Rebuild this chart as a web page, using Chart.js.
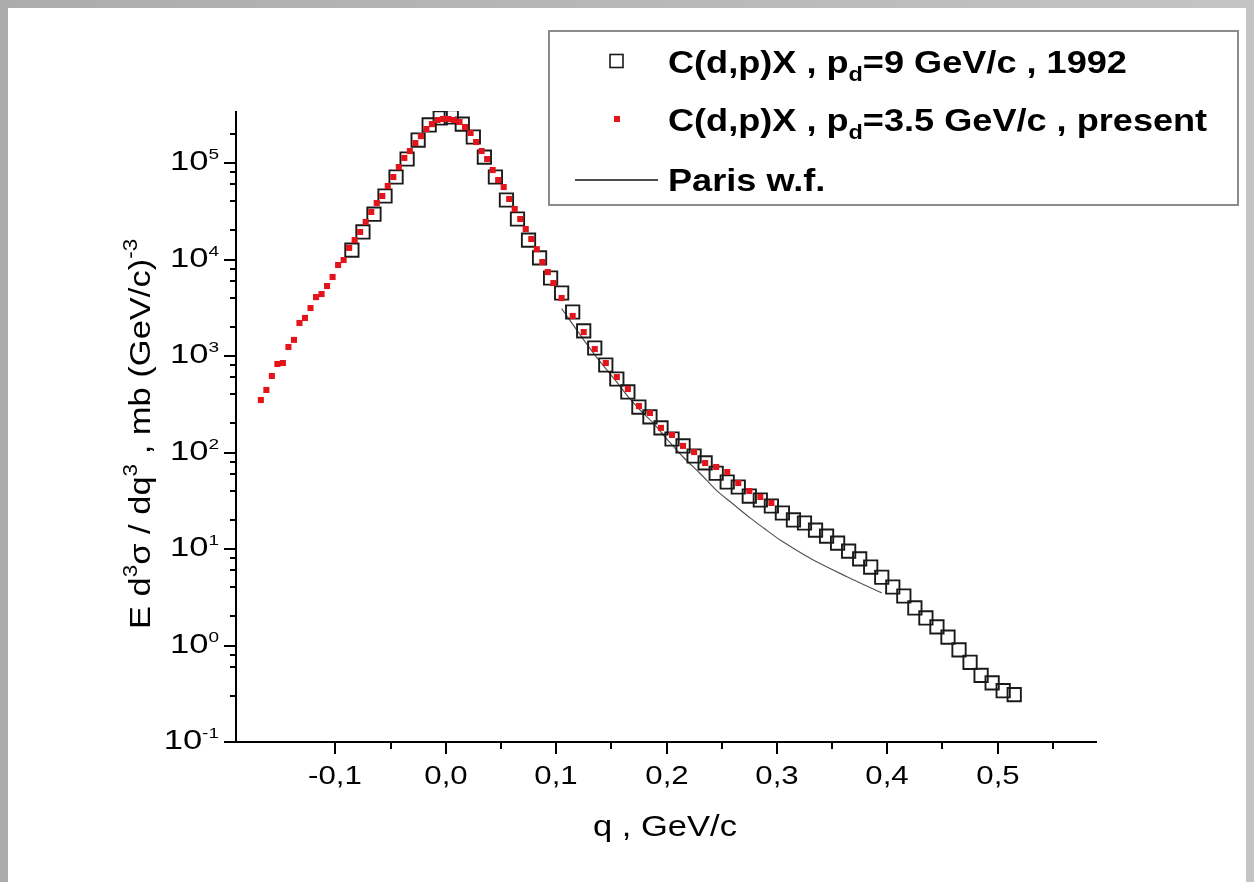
<!DOCTYPE html>
<html>
<head>
<meta charset="utf-8">
<title>C(d,p)X</title>
<script src="https://cdn.jsdelivr.net/npm/chart.js@4.4.1/dist/chart.umd.min.js"></script>
<style>
  html, body { margin: 0; padding: 0; }
  body { width: 1254px; height: 882px; overflow: hidden; position: relative;
         background: linear-gradient(90deg, #acacac 0%, #bababa 60%, #c4c4c4 100%); }
  #page { position: absolute; left: 8px; top: 8px; width: 1238px; height: 874px; background: #fff; }
  #c { position: absolute; left: 0; top: 0; }
</style>
</head>
<body>
<div id="page"></div>
<canvas id="c" width="1254" height="882"></canvas>
<script>
// C(d,p)X , p_d = 9 GeV/c (1992) - open squares
const q1992 = [-0.085, -0.075, -0.065, -0.055, -0.045, -0.035, -0.025, -0.015, -0.005,
  0.005, 0.015, 0.025, 0.035, 0.045, 0.055, 0.065, 0.075, 0.085, 0.095, 0.105,
  0.115, 0.125, 0.135, 0.145, 0.155, 0.165, 0.175, 0.185, 0.195, 0.205,
  0.215, 0.225, 0.235, 0.245, 0.255, 0.265, 0.275, 0.285, 0.295, 0.305,
  0.315, 0.325, 0.335, 0.345, 0.355, 0.365, 0.375, 0.385, 0.395, 0.405,
  0.415, 0.425, 0.435, 0.445, 0.455, 0.465, 0.475, 0.485, 0.495, 0.505, 0.515];
const sigma1992 = [12500, 19300, 29500, 45500, 71600, 110000, 173000, 248000, 293000,
  300000, 253000, 186000, 115000, 71600, 41400, 26300, 15900, 10400, 6430, 4500,
  2860, 1820, 1210, 807, 578, 424, 296, 234, 180, 138,
  117, 92, 78, 61, 49.5, 43.9, 35.4, 32.2, 27.9, 23.6,
  20.0, 18.6, 15.7, 13.6, 11.5, 9.5, 7.9, 6.5, 5.1, 4.04,
  3.26, 2.45, 1.93, 1.56, 1.22, 0.90, 0.67, 0.49, 0.41, 0.34, 0.31];

// C(d,p)X , p_d = 3.5 GeV/c (present) - red points
const qPresent = [-0.1675, -0.1625, -0.1575, -0.1525, -0.1475, -0.1425, -0.1375, -0.1325, -0.1275, -0.1225,
  -0.1175, -0.1125, -0.1075, -0.1025, -0.0975, -0.0925, -0.0875, -0.0825, -0.0775, -0.0725,
  -0.0675, -0.0625, -0.0575, -0.0525, -0.0475, -0.0425, -0.0375, -0.0325, -0.0275, -0.0225,
  -0.0175, -0.0125, -0.0075, -0.0025, 0.0025, 0.0075, 0.0125, 0.0175, 0.0225, 0.0275,
  0.0325, 0.0375, 0.0425, 0.0475, 0.0525, 0.0575, 0.0625, 0.0675, 0.0725, 0.0775,
  0.0825, 0.0875, 0.0925, 0.0975,
  0.105, 0.115, 0.125, 0.135, 0.145, 0.155, 0.165, 0.175, 0.185, 0.195,
  0.205, 0.215, 0.225, 0.235, 0.245, 0.255, 0.265, 0.275, 0.285, 0.295];
const sigmaPresent = [350, 445, 621, 827, 846, 1240, 1470, 2200, 2480, 3140,
  4080, 4390, 5310, 6590, 8770, 9880, 13200, 15900, 19300, 24500,
  31100, 38500, 45500, 57800, 71600, 90900, 113000, 133000, 161000, 190000,
  225000, 253000, 279000, 286000, 286000, 279000, 266000, 236000, 205000, 165000,
  133000, 110000, 84600, 66600, 56400, 42400, 33400, 26300, 20700, 16300,
  12800, 9420, 7410, 5700,
  3990, 2600, 1770, 1180, 846, 605, 455, 303, 257, 180,
  152, 117, 101, 77.8, 70.8, 62.8, 48.3, 39.9, 34.6, 30.0];

// Paris wave function
const qParis = [0.105, 0.111, 0.125, 0.140, 0.152, 0.164, 0.176, 0.188, 0.201, 0.215,
  0.230, 0.246, 0.260, 0.276, 0.288, 0.303, 0.333, 0.364, 0.395];
const sigmaParis = [3100, 2480, 1470, 867, 592, 394, 276, 202, 135, 89.9,
  61.3, 39.8, 29.5, 20.9, 16.5, 12.4, 7.69, 5.13, 3.50];

const xTitle = 'q , GeV/c';
const yTitle = 'E d^{3}σ / dq^{3} , mb (GeV/c)^{-3}';

const FONT = '"Liberation Sans", Arial, sans-serif';
const SX = 1.2; // the slide is stretched sideways

function parseRich(str) {
  const parts = [];
  const re = /([_^])\{([^}]*)\}/g;
  let last = 0, m;
  while ((m = re.exec(str))) {
    if (m.index > last) parts.push({ t: str.slice(last, m.index) });
    parts.push({ t: m[2], s: m[1] === '^' ? 'sup' : 'sub' });
    last = re.lastIndex;
  }
  if (last < str.length) parts.push({ t: str.slice(last) });
  return parts;
}

function fontFor(p, o) {
  const fs = p.s ? o.size * (o.small || 0.65) : o.size;
  return (o.bold ? 'bold ' : '') + fs + 'px ' + FONT;
}

function richWidth(ctx, parts, o) {
  let w = 0;
  parts.forEach(p => { ctx.font = fontFor(p, o); w += ctx.measureText(p.t).width; });
  return w;
}

// x,y: anchor on the baseline; o.align left/center/right; o.rot in radians
function drawRich(ctx, parts, x, y, o) {
  const sx = o.sx || 1, sy = o.sy || 1;
  const w = richWidth(ctx, parts, o) * sx;
  let start = 0;
  if (o.align === 'center') start = -w / 2;
  else if (o.align === 'right') start = -w;
  ctx.save();
  ctx.translate(x, y);
  if (o.rot) ctx.rotate(o.rot);
  ctx.translate(start, 0);
  ctx.scale(sx, sy);
  ctx.fillStyle = o.color || '#000';
  ctx.textBaseline = 'alphabetic';
  ctx.textAlign = 'left';
  let px = 0;
  parts.forEach(p => {
    ctx.font = fontFor(p, o);
    let dy = 0;
    if (p.s === 'sup') dy = -o.size * (o.raise || 0.42);
    if (p.s === 'sub') dy = o.size * 0.27;
    ctx.fillText(p.t, px, dy);
    px += ctx.measureText(p.t).width;
  });
  ctx.restore();
}

const axesPlugin = {
  id: 'originAxes',
  afterDraw(chart) {
    const { ctx, chartArea: a } = chart;
    const xs = chart.scales.x, ys = chart.scales.y;
    ctx.save();
    ctx.strokeStyle = '#000';
    ctx.lineWidth = 2;
    ctx.lineCap = 'butt';
    ctx.beginPath();
    ctx.moveTo(a.left, a.top);
    ctx.lineTo(a.left, a.bottom);
    ctx.lineTo(a.right, a.bottom);
    ctx.stroke();

    // x ticks, every 0.05, labelled every 0.1
    xs.ticks.forEach(t => {
      const k = Math.round(t.value / 0.05);
      if (Math.abs(t.value - k * 0.05) > 1e-6) return;
      const major = k % 2 === 0;
      const px = Math.round(xs.getPixelForValue(t.value));
      ctx.beginPath();
      ctx.moveTo(px, a.bottom);
      ctx.lineTo(px, a.bottom + (major ? 12 : 7));
      ctx.stroke();
      if (major) {
        const v = Math.abs(t.value) < 1e-9 ? 0 : k * 0.05;
        const lab = v.toFixed(1).replace('.', ',');
        drawRich(ctx, [{ t: lab }], px, a.bottom + 42, { size: 26, sx: SX, align: 'center' });
      }
    });

    // y ticks, decades labelled
    ys.ticks.forEach(t => {
      const v = t.value;
      const e = Math.floor(Math.log10(v) + 1e-9);
      const m = v / Math.pow(10, e);
      if (Math.abs(m - Math.round(m)) > 1e-6) return;
      const major = Math.round(m) === 1;
      const py = Math.round(ys.getPixelForValue(v));
      ctx.beginPath();
      ctx.moveTo(a.left, py);
      ctx.lineTo(a.left - (major ? 12 : 6), py);
      ctx.stroke();
      if (major) {
        drawRich(ctx, [{ t: '10' }, { t: String(e), s: 'sup' }], a.left - 17, py + 7,
          { size: 27, small: 0.55, raise: 0.42, sx: 1.28, align: 'right' });
      }
    });

    // axis titles
    drawRich(ctx, parseRich(xTitle), 665, 836, { size: 30, sx: 1.15, align: 'center' });
    drawRich(ctx, parseRich(yTitle), 150, 434, { size: 30, sx: 1.15, align: 'center', rot: -Math.PI / 2 });

    // legend box
    ctx.strokeStyle = '#8c8c8c';
    ctx.lineWidth = 2;
    ctx.strokeRect(549, 31, 689, 174);
    const rows = [73, 131, 191];
    chart.data.datasets.forEach((ds, i) => {
      const cy = rows[i] - 12;
      ctx.save();
      if (ds.showLine) {
        ctx.strokeStyle = '#111';
        ctx.lineWidth = 1.5;
        ctx.beginPath();
        ctx.moveTo(575, cy + 1);
        ctx.lineTo(658, cy + 1);
        ctx.stroke();
      } else if (ds.borderWidth > 0) {
        ctx.strokeStyle = ds.borderColor;
        ctx.lineWidth = 1.6;
        ctx.strokeRect(610, cy - 6.5, 13, 13);
      } else {
        ctx.fillStyle = ds.backgroundColor;
        ctx.fillRect(614, cy - 3, 6, 6);
      }
      ctx.restore();
      drawRich(ctx, parseRich(ds.label), 668, rows[i], { size: 31, bold: true, sx: 1.165, align: 'left' });
    });
    ctx.restore();
  }
};

const toPts = (xs, ys) => xs.map((x, i) => ({ x: x, y: ys[i] }));

new Chart(document.getElementById('c'), {
  type: 'scatter',
  data: {
    datasets: [
      {
        label: 'C(d,p)X , p_{d}=9 GeV/c , 1992',
        data: toPts(q1992, sigma1992),
        pointStyle: 'rect',
        pointRadius: 9.4,
        borderWidth: 1.9,
        borderColor: '#1a1a1a',
        backgroundColor: 'rgba(0,0,0,0)',
        order: 1
      },
      {
        label: 'C(d,p)X , p_{d}=3.5 GeV/c , present',
        data: toPts(qPresent, sigmaPresent),
        pointStyle: 'rect',
        pointRadius: 4.3,
        borderWidth: 0,
        backgroundColor: '#e3141b',
        order: 0
      },
      {
        label: 'Paris w.f.',
        data: toPts(qParis, sigmaParis),
        showLine: true,
        pointRadius: 0,
        borderWidth: 1.2,
        borderColor: '#555',
        tension: 0.3,
        order: 2
      }
    ]
  },
  options: {
    responsive: false,
    animation: false,
    layout: { padding: { left: 236, top: 111, right: 157, bottom: 140 } },
    plugins: { legend: { display: false }, tooltip: { enabled: false } },
    scales: {
      x: { type: 'linear', min: -0.19, max: 0.59, display: false, ticks: { stepSize: 0.05 } },
      y: { type: 'logarithmic', min: 0.1, max: 346000, display: false }
    }
  },
  plugins: [axesPlugin]
});
</script>
</body>
</html>
